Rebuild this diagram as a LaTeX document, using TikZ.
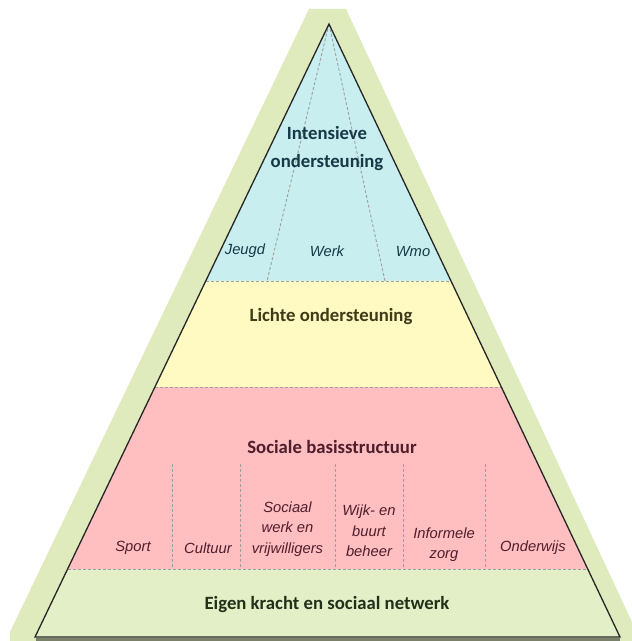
\documentclass[tikz,border=0pt]{standalone}
\usepackage{fontspec}
\usetikzlibrary{calc}
\setmainfont{Carlito}
\newfontfamily\labfont{Liberation Sans}
\begin{document}
\begin{tikzpicture}[x=1bp,y=-1bp,
  bandtitle/.style={font=\fontsize{18.8}{29}\selectfont\bfseries, align=center, inner sep=0pt},
  sublabel/.style={font=\labfont\itshape\fontsize{14.8}{20.5}\selectfont, align=center, inner sep=0pt},
  sep/.style={draw=gray!75, dash pattern=on 3bp off 2bp, line width=0.9bp},
  outline/.style={draw=black!85, line width=1.3bp, line join=miter}
]
\definecolor{bgGreen}{HTML}{DFEABD}
\definecolor{bandGreen}{HTML}{E3EFC7}
\definecolor{bandPink}{HTML}{FFBEC0}
\definecolor{bandYellow}{HTML}{FFFAC2}
\definecolor{bandBlue}{HTML}{C8EEF0}
\definecolor{txtBlue}{HTML}{173845}
\definecolor{txtYellow}{HTML}{3F3A18}
\definecolor{txtPink}{HTML}{4F1E2C}
\definecolor{txtGreen}{HTML}{22301A}
\useasboundingbox (0,0) rectangle (632,641);
\fill[white] (0,0) rectangle (632,641);
% background glow triangle
\fill[bgGreen] (309,9) -- (346,9) -- (632,622) -- (632,641) -- (10,641) -- (10,632) -- cycle;
% main triangle corners
\coordinate (A) at (329,24);
\coordinate (BL) at (35,637);
\coordinate (BR) at (620,637);
% band boundary points
\coordinate (L1) at ($(A)!0.4192!(BL)$);
\coordinate (R1) at ($(A)!0.4192!(BR)$);
\coordinate (L2) at ($(A)!0.5922!(BL)$);
\coordinate (R2) at ($(A)!0.5922!(BR)$);
\coordinate (L3) at ($(A)!0.8891!(BL)$);
\coordinate (R3) at ($(A)!0.8891!(BR)$);
% bands
\fill[bandBlue] (A) -- (L1) -- (R1) -- cycle;
\fill[bandYellow] (L1) -- (L2) -- (R2) -- (R1) -- cycle;
\fill[bandPink] (L2) -- (L3) -- (R3) -- (R2) -- cycle;
\fill[bandGreen] (L3) -- (BL) -- (BR) -- (R3) -- cycle;
% band separators
\draw[sep] (L1) -- (R1);
\draw[sep] (L2) -- (R2);
\draw[sep] (L3) -- (R3);
% dashed lines in blue band
\coordinate (J1) at (267,281);
\coordinate (J2) at (385,281);
\draw[sep] (A) -- (J1);
\draw[sep] (A) -- (J2);
% vertical dashed lines in pink band
\foreach \x/\n in {172/a,240/b,335/c,403/d,485/e}{
  \coordinate (T\n) at (\x,464);
  \coordinate (B\n) at (\x,569);
  \draw[sep] (T\n) -- (B\n);
}
% bottom shadow and outline
\draw[draw=black!45!bgGreen, line width=2.5bp] (36,639.5) -- (620,639.5);
\draw[outline] (A) -- (BL) -- (BR) -- cycle;
% texts
\node[bandtitle, text=txtBlue] (int) at (327,148.5) {Intensieve\\ondersteuning};
\node[sublabel, text=txtBlue] (jeugd) at (245,251) {Jeugd};
\node[sublabel, text=txtBlue] (werk) at (327,251) {Werk};
\node[sublabel, text=txtBlue] (wmo) at (413,251) {Wmo};
\node[bandtitle, text=txtYellow] (licht) at (331,317) {Lichte ondersteuning};
\node[bandtitle, text=txtPink] (soc) at (332,447) {Sociale basisstructuur};
\node[sublabel, text=txtPink] (sport) at (133,548) {Sport};
\node[sublabel, text=txtPink] (cult) at (208,548) {Cultuur};
\node[sublabel, text=txtPink] (sow) at (287.5,529) {Sociaal\\werk en\\vrijwilligers};
\node[sublabel, text=txtPink] (wijk) at (369,531) {Wijk- en\\buurt\\beheer};
\node[sublabel, text=txtPink] (inf) at (444,544.5) {Informele\\zorg};
\node[sublabel, text=txtPink] (ond) at (533,548) {Onderwijs};
\node[bandtitle, text=txtGreen] (eigen) at (327,605) {Eigen kracht en sociaal netwerk};
\end{tikzpicture}
\end{document}
